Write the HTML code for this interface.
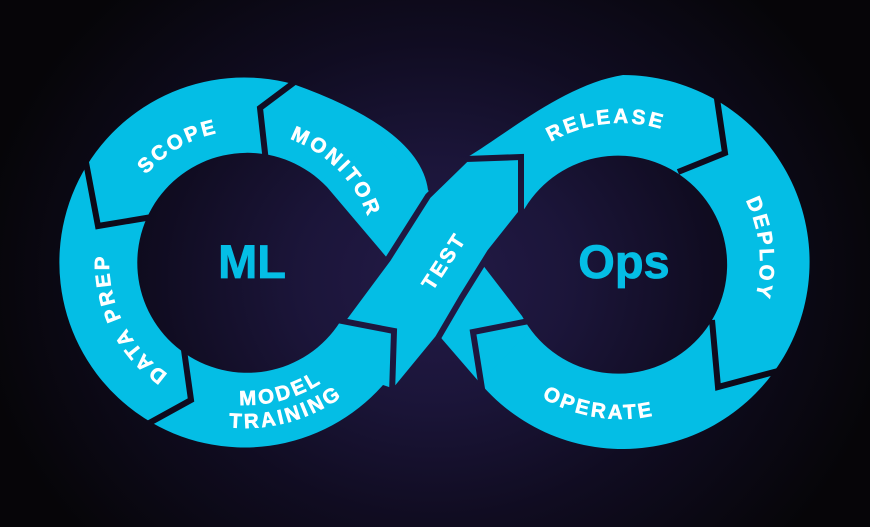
<!DOCTYPE html>
<html>
<head>
<meta charset="utf-8">
<style>
  html, body { margin: 0; padding: 0; background: #060508; }
  svg { display: block; }
  .lbl { font-family: "Liberation Sans", Arial, sans-serif; font-weight: bold; font-size: 20.5px; letter-spacing: 2.8px; fill: #ffffff; stroke: #ffffff; stroke-width: 0.6px; }
  .big { font-family: "Liberation Sans", Arial, sans-serif; font-weight: bold; font-size: 47px; fill: #04bee5; stroke: #04bee5; stroke-width: 0.8px; }
</style>
</head>
<body>
<svg width="870" height="527" viewBox="0 0 870 527" xmlns="http://www.w3.org/2000/svg">
  <defs>
    <radialGradient id="bg" gradientUnits="userSpaceOnUse" cx="0" cy="0" r="1" gradientTransform="translate(435,280) scale(460,400)">
      <stop offset="0" stop-color="#231a47"/>
      <stop offset="0.3" stop-color="#1b1539"/>
      <stop offset="0.6" stop-color="#100c21"/>
      <stop offset="1" stop-color="#060508"/>
    </radialGradient>
    <path id="pScope" d="M113,262 A132,132 0 0 1 311,147.7"/>
    <path id="pData" d="M235.5,397.7 A136,136 0 0 1 132.3,185.9"/>
    <path id="pMon" d="M211.8,135.3 A131,131 0 0 1 371.4,296.6"/>
    <path id="pModel" d="M144.6,363.8 A143,143 0 0 0 383.4,298"/>
    <path id="pTrain" d="M128.4,380.2 A166,166 0 0 0 405.6,303.8"/>
    <path id="pRel" d="M493.7,206.1 A139,139 0 0 1 733,179.7"/>
    <path id="pDep" d="M678.6,135.5 A139,139 0 0 1 701.7,375.2"/>
    <path id="pOp" d="M474.6,318.8 A157,157 0 0 0 743.3,360.4"/>
  </defs>

  <!-- background -->
  <rect x="0" y="0" width="870" height="527" fill="url(#bg)"/>

  <!-- cyan band -->
  <g fill="#04bee5">
    <!-- left lobe -->
    <path d="M428,190 Q420,129 293,84 A185,185 0 1 0 383,385 L398,390 L440,300 Z"/>
    <!-- right lobe -->
    <path d="M466,158 C505,135 565,84 623,75 A187,187 0 1 1 480,383 Z"/>
    <!-- monitor -> operate strip (under crossing) -->
    <path d="M322,180 L388,258 L442,339 L480,383 L540,320 L484,262 L428,190 L380,140 Z"/>
  </g>

  <!-- holes -->
  <path d="M388,259 L327,187 A110,110 0 1 0 340,322 Z" fill="url(#bg)"/>
  <path d="M482,264 L525,208 A109,109 0 1 1 522,316 Z" fill="url(#bg)"/>

  <!-- separators -->
  <g fill="none" stroke="url(#bg)" stroke-width="6" stroke-linejoin="miter">
    <polyline points="85,157 98,226 152,217"/>
    <polyline points="184,350 191,400 142,427"/>
    <polyline points="716,92 725,153 678,172"/>
    <polyline points="712,320 718,387 778,371"/>
    <polyline points="529,321 473,332 483,395"/>
    <polyline points="300,78 260,108 266,162"/>
  </g>

  <!-- TEST band over the crossing -->
  <path d="M466,159 L521,157 L521,213 L490,252 L462,297 L438,338 L392,394 L394,331 L342,321 L388,259 L428,196 Z"
        fill="#04bee5" stroke="url(#bg)" stroke-width="6" stroke-linejoin="miter"/>

  <!-- labels -->
  <text class="lbl"><textPath href="#pScope" startOffset="50%" text-anchor="middle">SCOPE</textPath></text>
  <text class="lbl"><textPath href="#pData" startOffset="50%" text-anchor="middle">DATA PREP</textPath></text>
  <text class="lbl"><textPath href="#pMon" startOffset="50%" text-anchor="middle">MONITOR</textPath></text>
  <text class="lbl"><textPath href="#pModel" startOffset="50%" text-anchor="middle">MODEL</textPath></text>
  <text class="lbl"><textPath href="#pTrain" startOffset="50%" text-anchor="middle">TRAINING</textPath></text>
  <text class="lbl"><textPath href="#pRel" startOffset="50%" text-anchor="middle">RELEASE</textPath></text>
  <text class="lbl"><textPath href="#pDep" startOffset="50%" text-anchor="middle">DEPLOY</textPath></text>
  <text class="lbl"><textPath href="#pOp" startOffset="50%" text-anchor="middle">OPERATE</textPath></text>
  <text class="lbl" text-anchor="middle" transform="translate(444,261) rotate(-57)" y="7">TEST</text>

  <text class="big" x="252" y="278" text-anchor="middle">ML</text>
  <text class="big" x="624" y="278" text-anchor="middle">Ops</text>
</svg>
</body>
</html>
